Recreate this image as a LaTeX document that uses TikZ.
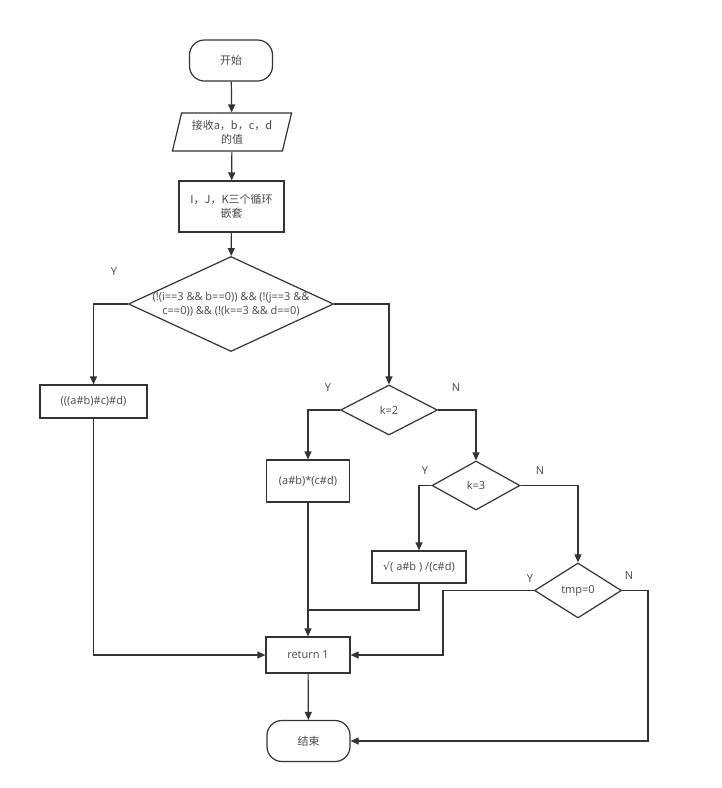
\documentclass[tikz,border=0pt]{standalone}
\usepackage{fontspec}
\setmainfont{Open Sans}
\newfontfamily\cjk{Noto Sans CJK SC}
\newfontfamily\symf{DejaVu Sans}
\usetikzlibrary{arrows.meta, shapes.geometric}

\begin{document}
\begin{tikzpicture}[
    x=1pt, y=-1pt,
    every node/.style={font=\fontsize{11}{14}\selectfont, text=black!72},
    zh/.style={font=\fontsize{11}{14}\selectfont\cjk},
    term/.style={draw=black!80, line width=1.2pt, rounded corners=15pt,
                 minimum width=83pt, minimum height=41pt},
    io/.style={draw=black!80, line width=1.2pt, trapezium, trapezium left angle=74,
               trapezium right angle=106, trapezium stretches=true,
               minimum width=120pt, minimum height=38pt, align=center, inner sep=1pt},
    box/.style={draw=black!80, line width=1.2pt, align=center, inner sep=2pt},
    dec/.style={draw=black!80, line width=1.2pt, diamond, inner sep=0pt},
    arr/.style={-{Triangle[length=8pt, width=7pt]}, line width=1.2pt, draw=black!80},
    lin/.style={line width=1.2pt, draw=black!80}
]
\useasboundingbox (0,0) rectangle (722,788);

\node[term, zh] (start) at (231,60.5) {开始};
\node[io, zh] (input) at (232,132) {接收a，b，c，d\\的值};
\node[box, zh, minimum width=105pt, minimum height=51pt] (loop) at (231.5,206.5)
    {I，J，K三个循环\\嵌套};
\node[dec, minimum width=205pt, minimum height=95pt,
      label={[align=center, font=\fontsize{11}{14}\selectfont, text=black!72]center:{(!(i==3 \&\& b==0)) \&\& (!(j==3 \&\&\\c==0)) \&\& (!(k==3 \&\& d==0)}}]
    (cond) at (231,304) {};
\node[box, minimum width=107pt, minimum height=33pt] (abcd) at (93.5,401.5) {(((a\#b)\#c)\#d)};
\node[dec, minimum width=97pt, minimum height=50pt] (k2) at (389,410) {k=2};
\node[box, minimum width=83pt, minimum height=42pt] (prod) at (308,481) {(a\#b)*(c\#d)};
\node[dec, minimum width=88pt, minimum height=49pt] (k3) at (476,485.5) {k=3};
\node[box, minimum width=94pt, minimum height=32pt] (quot) at (419,567) {{\symf √}( a\#b ) /(c\#d)};
\node[dec, minimum width=87pt, minimum height=55pt] (tmp) at (578,590.5) {tmp=0};
\node[box, minimum width=84pt, minimum height=36pt] (ret) at (308,655) {return 1};
\node[term, zh] (stop) at (308.5,741) {结束};

% Y / N
\node (y1) at (114,272) {Y};
\node (y2) at (328,388) {Y};
\node (n2) at (456,388) {N};
\node (y3) at (425,471) {Y};
\node (n3) at (540,471) {N};
\node (y4) at (530,579) {Y};
\node (n4) at (629,576) {N};

\coordinate (join) at (308,610);
\coordinate (tmpy) at (443,590.5);
\coordinate (tmpn) at (648,590.5);

\draw[arr] (start) -- (input);
\draw[arr] (input) -- (loop);
\draw[arr] (loop) -- (cond);
\draw[arr] (cond.west) -| (abcd.north);
\draw[arr] (cond.east) -| (k2.north);
\draw[arr] (k2.west) -| (prod.north);
\draw[arr] (k2.east) -| (k3.north);
\draw[arr] (k3.west) -| (quot.north);
\draw[arr] (k3.east) -| (tmp.north);
\draw[arr] (abcd.south) |- (ret.west);
\draw[arr] (prod.south) -- (ret.north);
\draw[lin] (quot.south) |- (join);
\draw[arr] (tmp.west) -- (tmpy) |- (ret.east);
\draw[arr] (tmp.east) -- (tmpn) |- (stop.east);
\draw[arr] (ret) -- (stop);
\end{tikzpicture}
\end{document}
